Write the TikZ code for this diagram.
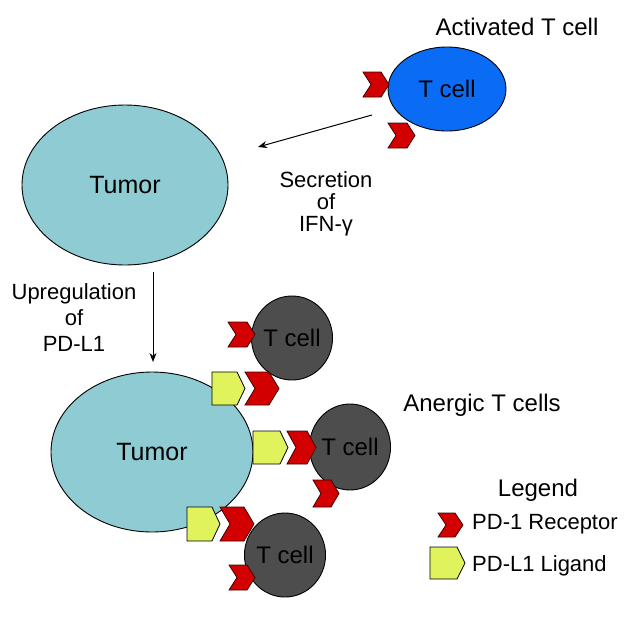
\documentclass[tikz,border=0pt]{standalone}
\usepackage{fontspec}
\setmainfont{Liberation Sans}
\usetikzlibrary{arrows.meta,shapes.geometric}
\definecolor{tumorc}{HTML}{8FCBD2}
\definecolor{tblue}{HTML}{0A6CF5}
\definecolor{tgray}{HTML}{4D4D4D}
\definecolor{rred}{HTML}{D20000}
\definecolor{lyel}{HTML}{E0F25C}
\tikzset{
  tumorbox/.style={ellipse, draw=black, line width=0.9pt, fill=tumorc, font=\fontsize{25}{28}\selectfont},
  activecell/.style={ellipse, draw=black, line width=0.9pt, fill=tblue, font=\fontsize{24}{28}\selectfont},
  anergcell/.style={ellipse, draw=black, line width=0.9pt, fill=tgray, font=\fontsize{24}{28}\selectfont},
  lbl/.style={font=\fontsize{22}{22}\selectfont, align=center, inner sep=0pt},
  biglbl/.style={font=\fontsize{24}{28}\selectfont, inner sep=0pt},
  conn/.style={line width=1pt, -{Stealth[length=9pt,width=7pt]}},
  chevstyle/.style={draw=black!70!rred, line width=0.8pt, fill=rred},
  ligstyle/.style={draw=black, line width=0.8pt, fill=lyel},
  pics/chev/.style n args={3}{code={\draw[chevstyle] (0,0) -- (#1-#3,0) -- (#1,#2/2) -- (#1-#3,#2) -- (0,#2) -- (#3,#2/2) -- cycle;}},
  pics/lig/.style n args={3}{code={\draw[ligstyle] (0,0) -- (#1-#3,0) -- (#1,#2/2) -- (#1-#3,#2) -- (0,#2) -- cycle;}},
}
\begin{document}
\begin{tikzpicture}[x=1pt,y=-1pt]
\useasboundingbox (0,0) rectangle (639,616);
% tumors
\node[tumorbox, minimum width=206pt, minimum height=160pt, inner sep=0pt] (tumor1) at (125,185) {Tumor};
\node[tumorbox, minimum width=202pt, minimum height=160pt, inner sep=0pt] (tumor2) at (152,452) {Tumor};
% activated T cell
\node[activecell, minimum width=118pt, minimum height=84pt, inner sep=0pt] (tact) at (447,89) {T cell};
\node[biglbl] (actlbl) at (517,27) {Activated T cell};
% anergic T cells
\node[anergcell, minimum width=76pt, minimum height=84pt, inner sep=0pt] (tan1) at (292,338) {T cell};
\node[anergcell, minimum width=74pt, minimum height=86pt, inner sep=0pt] (tan2) at (350,447) {T cell};
\node[anergcell, minimum width=76pt, minimum height=84pt, inner sep=0pt] (tan3) at (285,555) {T cell};
\node[biglbl] (anlbl) at (482,405) {Anergic T cells};
% ligands
\pic at (212,372) {lig={33}{33}{8}};
\pic at (253,431) {lig={35}{33}{8}};
\pic at (187,507) {lig={33}{34}{8}};
% receptors
\pic at (363,72) {chev={26}{25}{8}};
\pic at (388,123) {chev={27}{25}{8}};
\pic at (228,322) {chev={27}{25}{8}};
\pic at (245,372) {chev={34}{33}{10}};
\pic at (287,431) {chev={29}{33}{9}};
\pic at (313,480) {chev={26}{27}{8}};
\pic at (220,507) {chev={34}{34}{10}};
\pic at (229,565) {chev={26}{25}{8}};
% connectors
\coordinate (secstart) at (372,115);
\coordinate (secend) at (258,147);
\draw[conn] (secstart) -- (secend);
\coordinate (upstart) at (153,272);
\coordinate (upend) at (153,362);
\draw[conn] (upstart) -- (upend);
\node[lbl] (seclbl) at (326,204) {Secretion\\of\\IFN-γ};
\node[lbl] (uplbl) at (74,318) {Upregulation\\[4pt]of\\[4pt]PD-L1};
% legend
\node[biglbl] (leglbl) at (538,490) {Legend};
\pic at (438,513) {chev={25}{24}{8}};
\pic at (430,547) {lig={35}{32}{8}};
\node[lbl, anchor=base west] (legr) at (472,529) {PD-1 Receptor};
\node[lbl, anchor=base west] (legl) at (472,571) {PD-L1 Ligand};
\end{tikzpicture}
\end{document}
